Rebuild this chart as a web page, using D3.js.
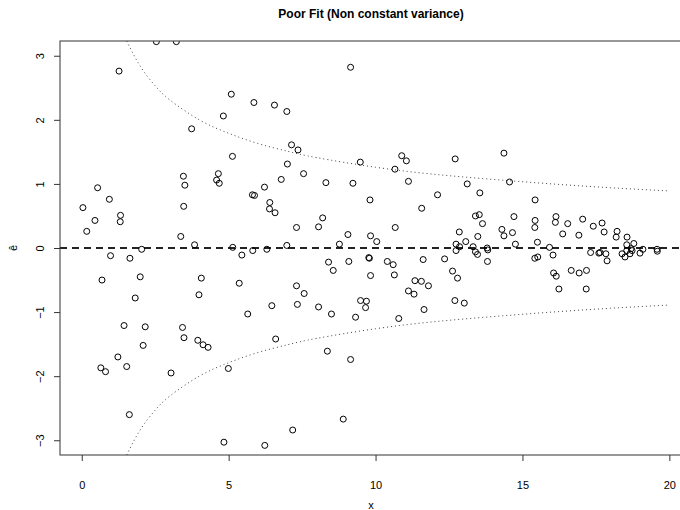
<!DOCTYPE html>
<html>
<head>
<meta charset="utf-8">
<script src="https://cdn.jsdelivr.net/npm/d3@7"></script>
<style>
  body { margin: 0; background: #fff; }
  svg { font-family: "Liberation Sans", Arial, Helvetica, sans-serif; }
</style>
</head>
<body>
<div class="resid-plot"></div>
<script>
// residuals, x and e-hat
var xVals = [
  2.54, 3.22, 1.27, 5.09, 4.82, 3.74, 5.13, 0.54, 3.46, 3.51, 4.65, 4.59, 4.68, 0.94, 0.04, 3.47,
  1.32, 1.31, 0.45, 0.17, 3.37, 3.84, 2.04, 5.14,
  5.45, 0.98, 1.64, 0.69, 1.99, 4.07, 5.36, 1.82, 3.99, 1.44, 2.16, 3.43, 3.48, 2.09, 3.95, 4.13,
  4.30, 1.23, 0.65, 0.81, 1.53, 3.04, 4.99, 1.62, 4.84,
  9.15, 5.86, 6.56, 6.98, 7.14, 7.36, 10.89, 11.05, 9.48, 7.00, 7.55, 10.66, 6.79, 8.31, 9.23, 11.12,
  6.22, 5.81, 5.88, 6.40, 6.39, 6.58, 9.81, 11.57, 8.20, 8.06, 7.31, 9.06, 9.83, 10.04, 10.67, 6.98, 8.77,
  5.82, 6.30, 8.40, 8.56, 9.09, 9.77, 9.79, 9.83, 10.40, 10.60, 10.64, 11.62, 11.34, 11.56, 11.12, 11.31,
  7.31, 7.57, 6.47, 7.34, 8.06, 5.65, 8.50, 9.49, 9.69, 9.66, 9.32, 10.79, 11.65, 6.60, 8.36, 9.15,
  8.90, 7.18, 6.23,
  12.71, 14.37, 13.12, 14.56, 12.11, 13.55, 15.43, 13.40, 13.53, 14.71, 13.64, 15.43, 15.42, 12.85, 14.30,
  14.37, 14.66, 13.48, 13.07, 12.74, 14.76, 15.51, 13.32, 13.80, 15.92, 12.86,
  12.74, 13.40, 13.47, 13.82, 16.04, 12.35, 13.81, 15.42, 15.52, 12.62, 12.79, 11.80, 12.70, 13.02, 16.06,
  16.14, 16.12, 16.54, 17.05, 17.41, 17.71, 17.78, 16.37, 16.92, 18.22, 18.19, 18.56, 18.79, 18.55,
  17.32, 17.60, 17.64, 17.84, 17.88, 18.70, 18.55, 18.39, 18.49, 18.66, 18.73, 19.00, 19.10, 19.58, 19.59,
  16.15, 16.66, 16.93, 17.18, 16.24, 17.17
];
var resVals = [
  3.22, 3.22, 2.76, 2.40, 2.06, 1.86, 1.43, 0.94, 1.12, 0.98, 1.16, 1.06, 1.01, 0.76, 0.63, 0.65,
  0.51, 0.41, 0.43, 0.26, 0.18, 0.05, -0.02, 0.01,
  -0.11, -0.12, -0.16, -0.50, -0.45, -0.47, -0.55, -0.78, -0.73, -1.21, -1.23, -1.24, -1.40, -1.52, -1.44, -1.51,
  -1.55, -1.70, -1.87, -1.93, -1.85, -1.95, -1.88, -2.60, -3.03,
  2.82, 2.27, 2.23, 2.13, 1.61, 1.53, 1.44, 1.36, 1.34, 1.31, 1.16, 1.23, 1.07, 1.02, 1.01, 1.04,
  0.95, 0.83, 0.82, 0.71, 0.61, 0.55, 0.75, 0.62, 0.47, 0.33, 0.32, 0.21, 0.19, 0.10, 0.32, 0.04, 0.06,
  -0.04, -0.02, -0.22, -0.35, -0.21, -0.15, -0.16, -0.43, -0.21, -0.26, -0.42, -0.18, -0.51, -0.52, -0.67, -0.72,
  -0.59, -0.71, -0.90, -0.88, -0.92, -1.03, -1.03, -0.82, -0.83, -0.93, -1.08, -1.10, -0.96, -1.42, -1.61, -1.74,
  -2.67, -2.84, -3.08,
  1.39, 1.48, 1.00, 1.03, 0.83, 0.86, 0.75, 0.50, 0.52, 0.49, 0.38, 0.43, 0.32, 0.25, 0.29,
  0.19, 0.24, 0.18, 0.10, 0.06, 0.06, 0.09, 0.02, 0.00, 0.01, 0.02,
  -0.04, -0.06, -0.10, -0.03, -0.11, -0.17, -0.21, -0.16, -0.14, -0.36, -0.47, -0.59, -0.82, -0.86, -0.39,
  0.49, 0.40, 0.38, 0.45, 0.34, 0.39, 0.25, 0.22, 0.20, 0.26, 0.17, 0.17, 0.07, 0.05,
  -0.07, -0.08, -0.07, -0.09, -0.20, -0.01, -0.04, -0.09, -0.14, -0.09, -0.04, -0.08, -0.02, -0.02, -0.05,
  -0.44, -0.35, -0.39, -0.35, -0.64, -0.64
];

// dotted envelope (lower one is its mirror)
var boundX = [1.53, 2, 2.5, 3, 4, 5, 6, 7, 8, 10, 12, 14, 16, 18, 20];
var boundY = [3.23, 2.83, 2.53, 2.31, 2.0, 1.79, 1.63, 1.51, 1.41, 1.26, 1.15, 1.07, 1.0, 0.94, 0.89];

var xTicks = [0, 5, 10, 15, 20];
var yTicks = [-3, -2, -1, 0, 1, 2, 3];

var width = 680,
    height = 510,
    margin = {top: 41, right: -2, bottom: 55, left: 60};

var svg = d3.select("div.resid-plot").append("svg")
    .attr("width", width)
    .attr("height", height);

var x = d3.scaleLinear()
    .domain([-0.74, 20.43])
    .range([margin.left, width - margin.right]);

var y = d3.scaleLinear()
    .domain([-3.23, 3.23])
    .range([height - margin.bottom, margin.top]);

svg.append("clipPath")
    .attr("id", "plot-clip")
  .append("rect")
    .attr("x", x.range()[0])
    .attr("y", y.range()[1])
    .attr("width", x.range()[1] - x.range()[0])
    .attr("height", y.range()[0] - y.range()[1]);

var plot = svg.append("g").attr("clip-path", "url(#plot-clip)");

var points = xVals.map(function(d, i) { return {x: d, e: resVals[i]}; });
var upper = boundX.map(function(d, i) { return {x: d, e: boundY[i]}; });
var lower = boundX.map(function(d, i) { return {x: d, e: -boundY[i]}; });

var line = d3.line()
    .x(function(d) { return x(d.x); })
    .y(function(d) { return y(d.e); })
    .curve(d3.curveNatural);

[upper, lower].forEach(function(b) {
  plot.append("path")
      .datum(b)
      .attr("fill", "none")
      .attr("stroke", "#444")
      .attr("stroke-width", 1)
      .attr("stroke-dasharray", "1,3")
      .attr("d", line);
});

// zero reference line
plot.append("line")
    .attr("x1", x.range()[0])
    .attr("x2", x.range()[1])
    .attr("y1", y(0))
    .attr("y2", y(0))
    .attr("stroke", "#222")
    .attr("stroke-width", 2)
    .attr("stroke-dasharray", "7,5");

plot.selectAll(".dot")
    .data(points)
  .enter().append("circle")
    .attr("class", "dot")
    .attr("cx", function(d) { return x(d.x); })
    .attr("cy", function(d) { return y(d.e); })
    .attr("r", 3)
    .attr("fill", "none")
    .attr("stroke", "#000")
    .attr("stroke-width", 1);

// frame
svg.append("rect")
    .attr("x", x.range()[0])
    .attr("y", y.range()[1])
    .attr("width", x.range()[1] - x.range()[0])
    .attr("height", y.range()[0] - y.range()[1])
    .attr("fill", "none")
    .attr("stroke", "#333")
    .attr("stroke-width", 1);

var xAxis = svg.append("g")
    .attr("transform", "translate(0," + y.range()[0] + ")")
    .call(d3.axisBottom(x).tickValues(xTicks).tickFormat(d3.format("d")).tickSize(6).tickPadding(20));
xAxis.select(".domain").remove();
xAxis.selectAll("line").attr("stroke", "#333");
xAxis.selectAll("text")
    .attr("font-size", 11)
    .attr("fill", "#000")
    .attr("font-family", "Liberation Sans, Arial, sans-serif");

var yAxis = svg.append("g")
    .attr("transform", "translate(" + x.range()[0] + ",0)")
    .call(d3.axisLeft(y).tickValues(yTicks).tickFormat(d3.format("d")).tickSize(6));
yAxis.select(".domain").remove();
yAxis.selectAll("line").attr("stroke", "#333");
yAxis.selectAll("text")
    .attr("x", null)
    .attr("dy", null)
    .attr("transform", "translate(-20,0) rotate(-90)")
    .attr("text-anchor", "middle")
    .attr("dominant-baseline", "central")
    .attr("font-size", 11)
    .attr("fill", "#000")
    .attr("font-family", "Liberation Sans, Arial, sans-serif");

svg.append("text")
    .attr("x", 371)
    .attr("y", 18)
    .attr("text-anchor", "middle")
    .attr("font-size", 12)
    .attr("font-weight", "bold")
    .text("Poor Fit (Non constant variance)");

svg.append("text")
    .attr("x", 371)
    .attr("y", 509)
    .attr("text-anchor", "middle")
    .attr("font-size", 11)
    .text("x");

svg.append("text")
    .attr("transform", "translate(17," + y(0) + ") rotate(-90)")
    .attr("text-anchor", "middle")
    .attr("font-size", 11)
    .text("ê");
</script>
</body>
</html>
